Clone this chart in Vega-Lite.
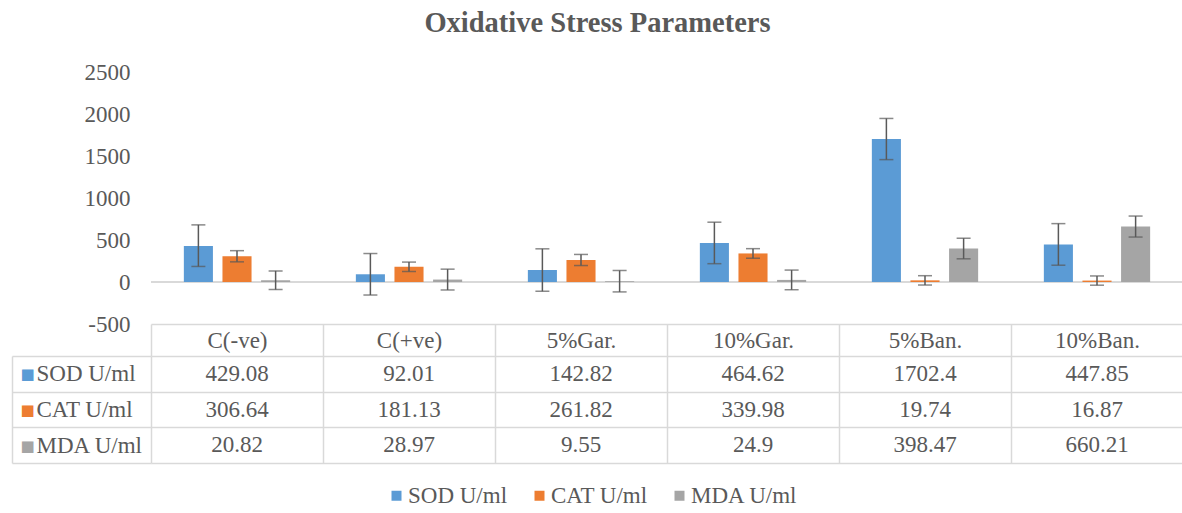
{
  "$schema": "https://vega.github.io/schema/vega-lite/v6.json",
  "padding": {"left": 11, "top": 8, "right": 0, "bottom": 0},
  "background": "white",
  "title": {"text": "Oxidative Stress Parameters", "font": "Liberation Serif, Times New Roman, serif", "fontSize": 28.5, "fontWeight": "bold", "color": "#595959", "anchor": "middle", "offset": 24},
  "config": {"view": {"stroke": null}, "font": "Liberation Serif, Times New Roman, serif"},
  "datasets": {
    "bars": [
      {"cat": "C(-ve)", "series": "SOD U/ml", "value": 429.08, "low": 185, "high": 680},
      {"cat": "C(+ve)", "series": "SOD U/ml", "value": 92.01, "low": -155, "high": 339},
      {"cat": "5%Gar.", "series": "SOD U/ml", "value": 142.82, "low": -110, "high": 395},
      {"cat": "10%Gar.", "series": "SOD U/ml", "value": 464.62, "low": 218, "high": 712},
      {"cat": "5%Ban.", "series": "SOD U/ml", "value": 1702.4, "low": 1457, "high": 1947},
      {"cat": "10%Ban.", "series": "SOD U/ml", "value": 447.85, "low": 200, "high": 695},
      {"cat": "C(-ve)", "series": "CAT U/ml", "value": 306.64, "low": 240, "high": 373},
      {"cat": "C(+ve)", "series": "CAT U/ml", "value": 181.13, "low": 125, "high": 237},
      {"cat": "5%Gar.", "series": "CAT U/ml", "value": 261.82, "low": 196, "high": 328},
      {"cat": "10%Gar.", "series": "CAT U/ml", "value": 339.98, "low": 283, "high": 397},
      {"cat": "5%Ban.", "series": "CAT U/ml", "value": 19.74, "low": -36, "high": 75},
      {"cat": "10%Ban.", "series": "CAT U/ml", "value": 16.87, "low": -38, "high": 72},
      {"cat": "C(-ve)", "series": "MDA U/ml", "value": 20.82, "low": -90, "high": 132},
      {"cat": "C(+ve)", "series": "MDA U/ml", "value": 28.97, "low": -95, "high": 153},
      {"cat": "5%Gar.", "series": "MDA U/ml", "value": 9.55, "low": -118, "high": 137},
      {"cat": "10%Gar.", "series": "MDA U/ml", "value": 24.9, "low": -92, "high": 142},
      {"cat": "5%Ban.", "series": "MDA U/ml", "value": 398.47, "low": 276, "high": 521},
      {"cat": "10%Ban.", "series": "MDA U/ml", "value": 660.21, "low": 535, "high": 785}
    ]
  },
  "bounds": "flush",
  "spacing": 32,
  "vconcat": [
    {
      "width": 1032,
      "height": 252,
      "data": {"name": "bars"},
      "layer": [
        {
          "mark": {"type": "rule", "color": "#d9d9d9", "strokeWidth": 1.5},
          "encoding": {"y": {"datum": 0, "type": "quantitative"}}
        },
        {
          "mark": {"type": "bar"},
          "encoding": {
            "x": {"field": "cat", "type": "nominal", "sort": ["C(-ve)", "C(+ve)", "5%Gar.", "10%Gar.", "5%Ban.", "10%Ban."], "scale": {"paddingInner": 0.382, "paddingOuter": 0.191}, "axis": {"title": null, "labels": false, "ticks": false, "domain": true, "domainColor": "#d9d9d9", "domainWidth": 1.5}},
            "xOffset": {"field": "series", "type": "nominal", "sort": ["SOD U/ml", "CAT U/ml", "MDA U/ml"], "scale": {"paddingInner": 0.247, "paddingOuter": 0}},
            "y": {"field": "value", "type": "quantitative", "scale": {"domain": [-500, 2500], "nice": false, "zero": false}, "axis": {"title": null, "values": [-500, 0, 500, 1000, 1500, 2000, 2500], "labelExpr": "'' + datum.value", "domain": false, "ticks": false, "grid": false, "labelPadding": 21, "labelFontSize": 23, "labelColor": "#595959", "labelFont": "Liberation Serif, Times New Roman, serif"}},
            "color": {"field": "series", "type": "nominal", "scale": {"domain": ["SOD U/ml", "CAT U/ml", "MDA U/ml"], "range": ["#5B9BD5", "#ED7D31", "#A5A5A5"]}, "legend": {"title": null, "orient": "none", "direction": "horizontal", "legendX": 234, "legendY": 412, "symbolType": "square", "symbolSize": 100, "symbolStrokeWidth": 0, "labelFontSize": 23, "labelFont": "Liberation Serif, Times New Roman, serif", "labelColor": "#595959", "columnPadding": 20, "labelOffset": 0}}
          }
        },
        {
          "mark": {"type": "rule", "color": "#595959", "strokeWidth": 1.5},
          "encoding": {
            "x": {"field": "cat", "type": "nominal", "sort": ["C(-ve)", "C(+ve)", "5%Gar.", "10%Gar.", "5%Ban.", "10%Ban."]},
            "xOffset": {"field": "series", "type": "nominal", "sort": ["SOD U/ml", "CAT U/ml", "MDA U/ml"]},
            "y": {"field": "low", "type": "quantitative", "title": null},
            "y2": {"field": "high"}
          }
        },
        {
          "mark": {"type": "tick", "color": "#595959", "thickness": 1.5, "size": 14},
          "encoding": {
            "x": {"field": "cat", "type": "nominal", "sort": ["C(-ve)", "C(+ve)", "5%Gar.", "10%Gar.", "5%Ban.", "10%Ban."]},
            "xOffset": {"field": "series", "type": "nominal", "sort": ["SOD U/ml", "CAT U/ml", "MDA U/ml"]},
            "y": {"field": "low", "type": "quantitative", "title": null}
          }
        },
        {
          "mark": {"type": "tick", "color": "#595959", "thickness": 1.5, "size": 14},
          "encoding": {
            "x": {"field": "cat", "type": "nominal", "sort": ["C(-ve)", "C(+ve)", "5%Gar.", "10%Gar.", "5%Ban.", "10%Ban."]},
            "xOffset": {"field": "series", "type": "nominal", "sort": ["SOD U/ml", "CAT U/ml", "MDA U/ml"]},
            "y": {"field": "high", "type": "quantitative", "title": null}
          }
        }
      ]
    },
    {
      "width": 1032,
      "height": 107,
      "data": {"name": "bars"},
      "layer": [
        {
          "mark": {"type": "text", "fontSize": 23, "font": "Liberation Serif, Times New Roman, serif", "color": "#595959"},
          "encoding": {
            "x": {"field": "cat", "type": "nominal", "sort": ["C(-ve)", "C(+ve)", "5%Gar.", "10%Gar.", "5%Ban.", "10%Ban."], "scale": {"paddingInner": 0, "paddingOuter": 0}, "axis": {"orient": "top", "title": null, "tickBand": "extent", "tickSize": 32, "tickColor": "#d9d9d9", "tickWidth": 1.5, "labelPadding": -16, "labelBaseline": "middle", "labelFontSize": 23, "labelColor": "#595959", "labelFont": "Liberation Serif, Times New Roman, serif", "labelAngle": 0, "labelOverlap": false, "domain": false, "grid": true, "gridColor": "#d9d9d9", "gridWidth": 1.5}},
            "y": {"field": "series", "type": "nominal", "sort": ["SOD U/ml", "CAT U/ml", "MDA U/ml"], "scale": {"paddingInner": 0, "paddingOuter": 0}, "axis": {"orient": "left", "title": null, "tickBand": "extent", "tickSize": 139, "tickColor": "#d9d9d9", "tickWidth": 1.5, "labelAlign": "left", "labelPadding": -24, "labelFontSize": 23, "labelColor": "#595959", "labelFont": "Liberation Serif, Times New Roman, serif", "labelBaseline": "middle", "domain": false, "grid": true, "gridColor": "#d9d9d9", "gridWidth": 1.5}},
            "text": {"field": "value", "type": "nominal"}
          }
        },
        {
          "mark": {"type": "text", "opacity": 0},
          "encoding": {
            "x": {"field": "cat", "type": "nominal", "sort": ["C(-ve)", "C(+ve)", "5%Gar.", "10%Gar.", "5%Ban.", "10%Ban."]},
            "y": {"field": "series", "type": "nominal", "sort": ["SOD U/ml", "CAT U/ml", "MDA U/ml"], "scale": {"paddingInner": 0, "paddingOuter": 0}, "axis": {"orient": "left", "offset": 139, "title": null, "ticks": false, "grid": false, "domain": true, "domainColor": "#d9d9d9", "domainWidth": 1.5, "labelExpr": "'\u25a0'", "labelAlign": "left", "labelPadding": -8, "labelFont": "DejaVu Sans", "labelFontSize": 15, "labelBaseline": "middle", "labelColor": {"condition": [{"test": "datum.value === 'SOD U/ml'", "value": "#5B9BD5"}, {"test": "datum.value === 'CAT U/ml'", "value": "#ED7D31"}], "value": "#A5A5A5"}}},
            "text": {"value": ""}
          }
        }
      ],
      "resolve": {"scale": {"y": "independent"}, "axis": {"y": "independent"}}
    }
  ]
}
